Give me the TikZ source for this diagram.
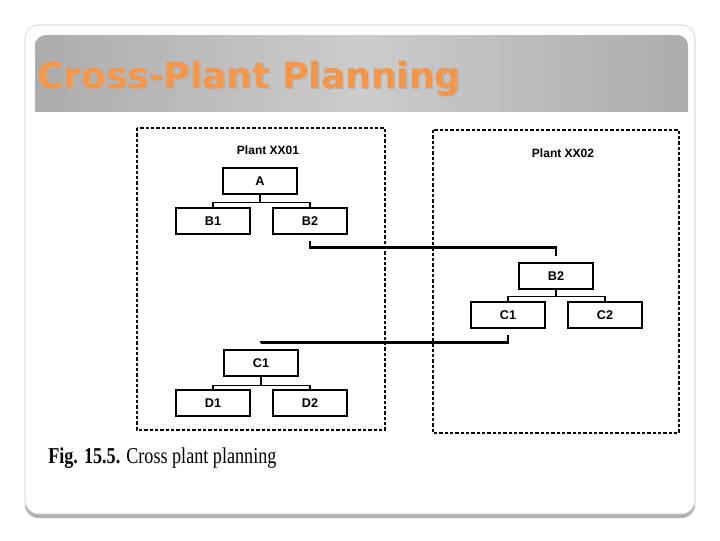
\documentclass[tikz,border=0pt]{standalone}
\usepackage{fontspec}
\setmainfont{Liberation Serif}
\newfontfamily\titlefont{DejaVu Sans}
\newfontfamily\arialfont{Liberation Sans}
\usetikzlibrary{calc}
\definecolor{titleorange}{RGB}{247,150,70}
\definecolor{frameline}{RGB}{200,200,200}
\tikzset{
  blk/.style={draw, line width=1.4pt, minimum width=55.5pt, minimum height=20pt, inner sep=0pt,
              font=\arialfont\bfseries\fontsize{9.5}{11}\selectfont},
  tree/.style={line width=0.8pt},
  xfer/.style={line width=2.2pt, shorten <=4.5pt, shorten >=4.5pt},
  plantbox/.style={line width=1.2pt, dash pattern=on 2.5pt off 1.5pt},
  plantlbl/.style={font=\arialfont\bfseries\fontsize{9}{11}\selectfont, inner sep=0pt}
}
\begin{document}
\begin{tikzpicture}[x=0.75pt, y=-0.75pt]
\useasboundingbox (0,0) rectangle (720,540);
\fill[white] (0,0) rectangle (720,540);
% slide frame
\fill[gray!60] (25,30) [rounded corners=10pt] rectangle (695,518);
\draw[frameline, fill=white, rounded corners=10pt] (25,25) rectangle (695,514);
% title band
\shade[left color=gray!65, right color=gray!65, middle color=gray!40, rounded corners=8pt]
  (35,35) rectangle (688,130);
\fill[white] (26,112) rectangle (690,478);
\node[anchor=base west, inner sep=0pt, text=black!30, font=\titlefont\bfseries\fontsize{27}{32}\selectfont]
  (titleshadow) at (38.5,89.5) {Cross-Plant Planning};
\node[anchor=base west, inner sep=0pt, text=titleorange, font=\titlefont\bfseries\fontsize{27}{32}\selectfont]
  (title) at (37,88) {Cross-Plant Planning};

% plant boxes
\draw[plantbox] (137,128) rectangle (385,430);
\draw[plantbox] (433,130) rectangle (679,433);
\node[plantlbl] (p1) at (268,150) {Plant XX01};
\node[plantlbl] (p2) at (563,153) {Plant XX02};

% left upper tree
\node[blk] (A) at (260,181) {A};
\node[blk] (B1) at (213,221) {B1};
\node[blk] (B2L) at (310,221) {B2};
\draw[tree] (A.south) -- ++(0,7) -| (B1.north);
\draw[tree] (A.south) -- ++(0,7) -| (B2L.north);

% right tree
\node[blk] (B2R) at (556,276) {B2};
\node[blk] (C1R) at (508,315) {C1};
\node[blk] (C2R) at (605,315) {C2};
\draw[tree] (B2R.south) -- ++(0,6) -| (C1R.north);
\draw[tree] (B2R.south) -- ++(0,6) -| (C2R.north);

% left lower tree
\node[blk] (C1L) at (261,363) {C1};
\node[blk] (D1) at (213,403) {D1};
\node[blk] (D2) at (310,403) {D2};
\draw[tree] (C1L.south) -- ++(0,8) -| (D1.north);
\draw[tree] (C1L.south) -- ++(0,8) -| (D2.north);

% cross-plant links
\draw[xfer] (B2L.south) -- ++(0,12.5) -| (B2R.north);
\draw[xfer] (C1R.south) -- ++(0,13) -| (C1L.north);

% caption
\node[anchor=base west, inner sep=0pt] (cap) at (48,463)
  {\scalebox{0.8}[1]{\fontsize{17}{20}\selectfont\textbf{Fig. 15.5.} Cross plant planning}};
\end{tikzpicture}
\end{document}
